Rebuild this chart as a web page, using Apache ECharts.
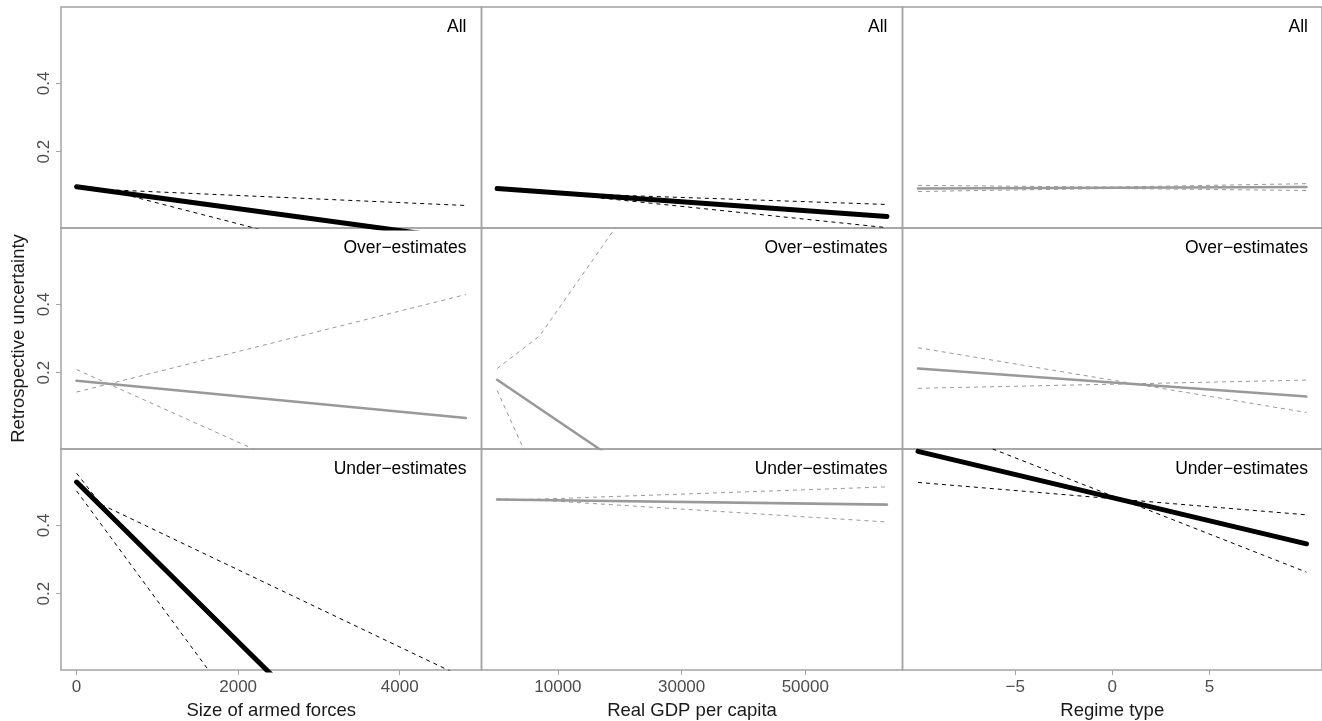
<!DOCTYPE html>
<html>
<head>
<meta charset="utf-8">
<script src="https://cdn.jsdelivr.net/npm/echarts@6/dist/echarts.min.js"></script>
<style>
html,body{margin:0;padding:0;background:#fff;}
#chart{width:1322px;height:721px;}
</style>
</head>
<body>
<div id="chart"></div>
<script>
// ---- Data ----
const rowLabels = ['All', 'Over\u2212estimates', 'Under\u2212estimates'];
const xTitles = ['Size of armed forces', 'Real GDP per capita', 'Regime type'];
const yTitle = 'Retrospective uncertainty';
const xTicksArmed = [0, 2000, 4000];
const xTicksGdp = [10000, 30000, 50000];
const xTicksRegime = [-5, 0, 5];
const yTicks = [0.2, 0.4];
const xRangeArmed = [-193, 5013];
const xRangeGdp = [-2362, 65722];
const xRangeRegime = [-10.8, 10.8];
const yRange = [-0.024, 0.624];

// Row "All"
const allArmedFit = [[0, 0.097], [4820, -0.058]];
const allArmedCi1 = [[0, 0.094], [500, 0.087], [4820, 0.042]];
const allArmedCi2 = [[0, 0.100], [500, 0.080], [4820, -0.184]];
const allGdpFit = [[160, 0.092], [63200, 0.0097]];
const allGdpCi1 = [[160, 0.093], [10000, 0.078], [63200, 0.045]];
const allGdpCi2 = [[160, 0.091], [10000, 0.077], [63200, -0.023]];
const allRegFit = [[-10, 0.092], [10, 0.096]];
const allRegCi1 = [[-10, 0.101], [0, 0.096], [10, 0.106]];
const allRegCi2 = [[-10, 0.083], [0, 0.092], [10, 0.086]];

// Row "Over-estimates"
const overArmedFit = [[0, 0.176], [4820, 0.067]];
const overArmedCi1 = [[0, 0.143], [4820, 0.429]];
const overArmedCi2 = [[0, 0.209], [4820, -0.304]];
const overGdpFit = [[160, 0.179], [16700, -0.024], [63200, -0.59]];
const overGdpCi1 = [[160, 0.212], [7000, 0.307], [19100, 0.62], [63200, 1.76]];
const overGdpCi2 = [[160, 0.148], [4450, -0.024], [63200, -2.38]];
const overRegFit = [[-10, 0.212], [10, 0.130]];
const overRegCi1 = [[-10, 0.273], [10, 0.083]];
const overRegCi2 = [[-10, 0.154], [10, 0.178]];

// Row "Under-estimates"
const underArmedFit = [[0, 0.527], [2353, -0.024], [4820, -0.602]];
const underArmedCi1 = [[0, 0.553], [300, 0.462], [4580, -0.022], [4820, -0.049]];
const underArmedCi2 = [[0, 0.501], [1632, -0.024], [4820, -1.05]];
const underGdpFit = [[160, 0.476], [63200, 0.461]];
const underGdpCi1 = [[160, 0.475], [7000, 0.477], [63200, 0.513]];
const underGdpCi2 = [[160, 0.478], [7000, 0.474], [63200, 0.410]];
const underRegFit = [[-10, 0.617], [10, 0.346]];
const underRegCi1 = [[-10, 0.71], [10, 0.263]];
const underRegCi2 = [[-10, 0.526], [10, 0.431]];

// significance (black = significant, gray = not)
const significant = [
  [true, true, false],
  [false, false, false],
  [true, false, true]
];

const panelLines = [
  [[allArmedFit, allArmedCi1, allArmedCi2], [allGdpFit, allGdpCi1, allGdpCi2], [allRegFit, allRegCi1, allRegCi2]],
  [[overArmedFit, overArmedCi1, overArmedCi2], [overGdpFit, overGdpCi1, overGdpCi2], [overRegFit, overRegCi1, overRegCi2]],
  [[underArmedFit, underArmedCi1, underArmedCi2], [underGdpFit, underGdpCi1, underGdpCi2], [underRegFit, underRegCi1, underRegCi2]]
];

// ---- Layout ----
const FONT = 'Liberation Sans, Arial, Helvetica, sans-serif';
const cols = [{left: 61, width: 420.5}, {left: 481.5, width: 421}, {left: 902.5, width: 420.5}];
const rowTops = [7, 228, 449];
const rowH = 221;
const xRanges = [xRangeArmed, xRangeGdp, xRangeRegime];
const xTickSets = [xTicksArmed, xTicksGdp, xTicksRegime];
const BORDER = '#a3a3a3';

const grids = [], xAxes = [], yAxes = [], series = [], graphics = [];
for (let r = 0; r < 3; r++) {
  for (let c = 0; c < 3; c++) {
    const idx = r * 3 + c;
    grids.push({
      left: cols[c].left, top: rowTops[r], width: cols[c].width, height: rowH,
      show: true, borderColor: BORDER, borderWidth: 1.5, backgroundColor: 'transparent',
      containLabel: false
    });
    const bottom = r === 2;
    xAxes.push({
      type: 'value', gridIndex: idx, min: xRanges[c][0], max: xRanges[c][1], position: 'bottom',
      axisLine: {show: false, onZero: false},
      splitLine: {show: false},
      axisTick: {show: bottom, length: 5, lineStyle: {color: BORDER, width: 1}, customValues: xTickSets[c]},
      axisLabel: {show: bottom, customValues: xTickSets[c], color: '#4d4d4d', fontSize: 17, fontFamily: FONT, margin: 9,
        formatter: v => (v < 0 ? '\u2212' + Math.abs(v) : String(v))},
      name: bottom ? xTitles[c] : '', nameLocation: 'middle', nameGap: 31,
      nameTextStyle: {color: '#1a1a1a', fontSize: 18.5, fontFamily: FONT}
    });
    const leftCol = c === 0;
    yAxes.push({
      type: 'value', gridIndex: idx, min: yRange[0], max: yRange[1], position: 'left',
      axisLine: {show: false, onZero: false},
      splitLine: {show: false},
      axisTick: {show: leftCol, length: 5, lineStyle: {color: BORDER, width: 1}, customValues: yTicks},
      axisLabel: {show: leftCol, customValues: yTicks, color: '#4d4d4d', fontSize: 17, fontFamily: FONT, margin: 8, rotate: 90,
        formatter: v => v.toFixed(1)},
      name: (leftCol && r === 1) ? yTitle : '', nameLocation: 'middle', nameGap: 33,
      nameTextStyle: {color: '#1a1a1a', fontSize: 18.5, fontFamily: FONT}
    });
    const sig = significant[r][c];
    const col = sig ? '#000000' : '#999999';
    const lines = panelLines[r][c];
    lines.forEach((d, k) => {
      series.push({
        type: 'line', xAxisIndex: idx, yAxisIndex: idx, data: d,
        showSymbol: false, symbol: 'none', silent: true, animation: false, clip: true,
        z: k === 0 ? 3 : 2,
        lineStyle: k === 0
          ? {color: col, width: sig ? 5 : 2.6, cap: 'round', join: 'round'}
          : {color: col, width: 1, type: [4, 4]}
      });
    });
    graphics.push({
      type: 'text', x: cols[c].left + cols[c].width - 15, y: rowTops[r] + 20, silent: true,
      style: {text: rowLabels[r], fill: '#000', font: '17.5px ' + FONT, textAlign: 'right', textVerticalAlign: 'middle'}
    });
  }
}

const chart = echarts.init(document.getElementById('chart'), null, {renderer: 'canvas'});
chart.setOption({
  backgroundColor: '#ffffff',
  animation: false,
  grid: grids,
  xAxis: xAxes,
  yAxis: yAxes,
  series: series,
  graphic: graphics
});
</script>
</body>
</html>
